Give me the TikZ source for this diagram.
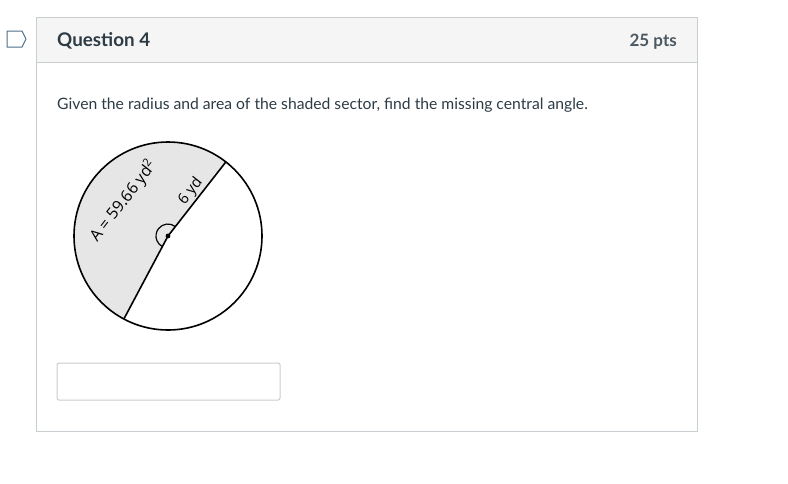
\documentclass[tikz,border=0pt]{standalone}
\usepackage{fontspec}
\setmainfont{Lato}
\newfontfamily\figfont{Open Sans}
\usetikzlibrary{calc}
\definecolor{txt}{HTML}{2D3B45}
\definecolor{bord}{HTML}{C7CDD1}
\definecolor{head}{HTML}{F5F5F5}
\definecolor{sectorgray}{HTML}{E6E6E6}
\definecolor{flag}{HTML}{4B6E8C}
\begin{document}
\begin{tikzpicture}[x=1pt,y=-1pt,
  lbl/.style={inner sep=0pt, font=\figfont\fontsize{16}{16}\selectfont, text=black}]
\useasboundingbox (0,0) rectangle (788,483);
% outer frame
\fill[head] (36,17) rectangle (697,62);
\draw[bord, line width=1pt] (36,17) rectangle (697,431);
\draw[bord, line width=1pt] (36,62) -- (697,62);
% flag icon
\draw[flag, line width=1pt, line join=round] (7,31) -- (22,31) -- (26,39) -- (22,47) -- (7,47) -- cycle;
\node[anchor=base west, inner sep=0pt, text=txt, font=\fontsize{18.8}{18.8}\selectfont\bfseries] (q) at (57,46) {Question 4};
\node[anchor=base east, inner sep=0pt, text=txt!85, font=\fontsize{17}{17}\selectfont\bfseries] (pts) at (677,46) {25 pts};
\node[anchor=base west, inner sep=0pt, text=txt, font=\fontsize{15.7}{15.7}\selectfont] (given) at (57,109) {Given the radius and area of the shaded sector, find the missing central angle.};
% circle
\coordinate (c) at (168,236);
\begin{scope}[y=1pt]
\fill[sectorgray] (c) -- ++(52:94) arc[start angle=52, end angle=242, radius=94] -- cycle;
\draw[line width=1.6pt] (c) circle[radius=94];
\draw[line width=1.6pt] (c) -- ++(52:94) coordinate (p1);
\draw[line width=1.6pt] (c) -- ++(242:94) coordinate (p2);
\draw[line width=1.2pt] ($(c)+(52:12)$) arc[start angle=52, end angle=242, radius=12];
\fill (c) circle[radius=2.4];
\node[lbl, font=\figfont\fontsize{15}{15}\selectfont, rotate=52] (r) at ($(c)+(52:49)+(142:9.5)$) {6 yd};
\node[lbl, rotate=52] (a) at ($(c)+(142:57)$) {A = 59.66 yd\textsuperscript{2}};
\end{scope}
% answer box
\draw[bord, line width=1pt, rounded corners=2pt] (57,363) rectangle (280,400);
\end{tikzpicture}
\end{document}
